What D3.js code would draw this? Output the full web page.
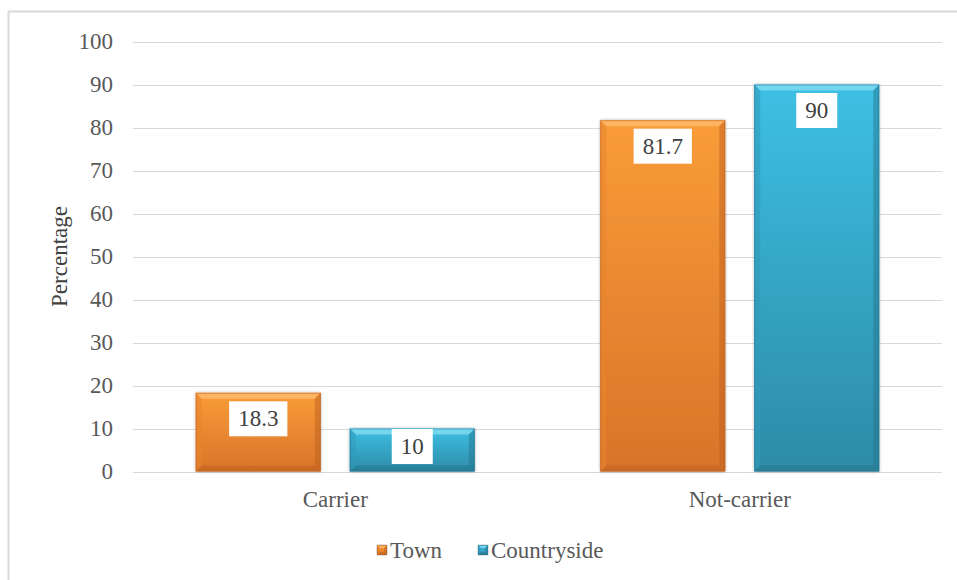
<!DOCTYPE html>
<html><head><meta charset="utf-8">
<script src="https://cdn.jsdelivr.net/npm/d3@7"></script>
<style>html,body{margin:0;padding:0;background:#fff;}svg{display:block;}</style>
</head><body>
<script>
const categories = ["Carrier", "Not-carrier"];
const seriesNames = ["Town", "Countryside"];
const townValues = [18.3, 81.7];
const countrysideValues = [10, 90];
const yTicks = [0, 10, 20, 30, 40, 50, 60, 70, 80, 90, 100];

const W = 957, H = 580;
const font = "'Liberation Serif','Times New Roman',serif";
const textColor = "#595959";
const svg = d3.select("body").append("svg").attr("width", W).attr("height", H);

const defs = svg.append("defs");
const palettes = {
  Town: {top: "#FA9C38", bot: "#D8742A", light: "#FDB768", dark: "#B85E1E", side: "#E8852E"},
  Countryside: {top: "#3DC0E4", bot: "#2D8BA6", light: "#7BD8F1", dark: "#23718A", side: "#3299BA"}
};
seriesNames.forEach((s, i) => {
  const g = defs.append("linearGradient").attr("id", "g" + i).attr("x1", 0).attr("y1", 0).attr("x2", 0).attr("y2", 1);
  g.append("stop").attr("offset", "0%").attr("stop-color", palettes[s].top);
  g.append("stop").attr("offset", "100%").attr("stop-color", palettes[s].bot);
});
const f = defs.append("filter").attr("id", "sh").attr("x", "-10%").attr("y", "-10%").attr("width", "120%").attr("height", "120%");
f.append("feDropShadow").attr("dx", 0).attr("dy", 0).attr("stdDeviation", 1.5).attr("flood-color", "#000").attr("flood-opacity", 0.35);

// chart border
svg.append("path").attr("d", `M8.5,${H + 2} L8.5,11.5 L${W + 2},11.5`).attr("fill", "none").attr("stroke", "#D9D9D9").attr("stroke-width", 2);

const x0 = d3.scaleBand().domain(categories).range([133, 942]);
const x1 = d3.scaleBand().domain(seriesNames).range([0, 279]).paddingInner(29 / 154);
const y = d3.scaleLinear().domain([0, 100]).range([471.5, 41.5]);

// grid
const yAxis = d3.axisLeft(y).tickValues(yTicks).tickSize(-(942 - 133)).tickPadding(20);
const ga = svg.append("g").attr("transform", "translate(133,0)").call(yAxis);
ga.select(".domain").remove();
ga.selectAll(".tick line").attr("stroke", "#D9D9D9").attr("stroke-width", 1).attr("shape-rendering", "crispEdges");
ga.selectAll(".tick text").attr("font-family", font).attr("font-size", 23).attr("fill", textColor);

// x labels
const xAxis = d3.axisBottom(x0).tickSize(0).tickPadding(19);
const gx = svg.append("g").attr("transform", "translate(0,471.5)").call(xAxis);
gx.select(".domain").remove();
gx.selectAll(".tick text").attr("font-family", font).attr("font-size", 23).attr("fill", textColor);

// y title
svg.append("text").attr("transform", `translate(67,${(y(0) + y(100)) / 2}) rotate(-90)`)
  .attr("text-anchor", "middle").attr("font-family", font).attr("font-size", 23).attr("fill", "#404040").text("Percentage");

const data = [];
categories.forEach((c, ci) => {
  data.push({cat: c, s: "Town", si: 0, v: townValues[ci]});
  data.push({cat: c, s: "Countryside", si: 1, v: countrysideValues[ci]});
});

function bevelBar(g, xl, xr, yt, yb, p, gid, b) {
  g.append("rect").attr("x", xl).attr("y", yt).attr("width", xr - xl).attr("height", yb - yt)
    .attr("fill", `url(#${gid})`).attr("filter", "url(#sh)");
  g.append("path").attr("d", `M${xl},${yt}L${xr},${yt}L${xr - b},${yt + b}L${xl + b},${yt + b}Z`).attr("fill", p.light).attr("opacity", 0.9);
  g.append("path").attr("d", `M${xl},${yt}L${xl + b},${yt + b}L${xl + b},${yb - b}L${xl},${yb}Z`).attr("fill", p.side).attr("opacity", 0.55);
  g.append("path").attr("d", `M${xr},${yt}L${xr - b},${yt + b}L${xr - b},${yb - b}L${xr},${yb}Z`).attr("fill", p.dark).attr("opacity", 0.45);
  g.append("path").attr("d", `M${xl},${yb}L${xl + b},${yb - b}L${xr - b},${yb - b}L${xr},${yb}Z`).attr("fill", p.dark).attr("opacity", 0.45);
  g.append("rect").attr("x", xl + 0.5).attr("y", yt + 0.5).attr("width", xr - xl - 1).attr("height", yb - yt - 1)
    .attr("fill", "none").attr("stroke", p.dark).attr("stroke-opacity", 0.5).attr("stroke-width", 1);
}

const barsG = svg.append("g");
data.forEach(d => {
  const xl = x0(d.cat) + (x0.bandwidth() - 279) / 2 + x1(d.s);
  const xr = xl + x1.bandwidth();
  bevelBar(barsG.append("g"), xl, xr, y(d.v), y(0), palettes[d.s], "g" + d.si, 6);
});

// labels
const labG = svg.append("g");
data.forEach(d => {
  const xl = x0(d.cat) + (x0.bandwidth() - 279) / 2 + x1(d.s);
  const cx = xl + x1.bandwidth() / 2;
  const t = labG.append("text").attr("font-family", font).attr("font-size", 23).attr("fill", "#404040")
    .attr("text-anchor", "middle").text(String(d.v));
  const w = t.node().getComputedTextLength() + 18;
  const h = 35;
  const top = Math.min(y(d.v) + 8.5, y(0) - 7.5 - h);
  labG.insert("rect", "text").attr("x", cx - w / 2).attr("y", top).attr("width", w).attr("height", h).attr("fill", "#fff");
  t.attr("x", cx).attr("y", top + 25);
});
labG.selectAll("rect").lower();

// legend
const leg = svg.append("g");
const legItems = [{s: "Town", x: 377}, {s: "Countryside", x: 478}];
legItems.forEach((it, i) => {
  bevelBar(leg.append("g"), it.x, it.x + 10, 545, 555, palettes[it.s], "g" + i, 3);
  leg.append("text").attr("x", it.x + 13).attr("y", 558).attr("font-family", font).attr("font-size", 23).attr("fill", textColor).text(it.s);
});
</script>
</body></html>
